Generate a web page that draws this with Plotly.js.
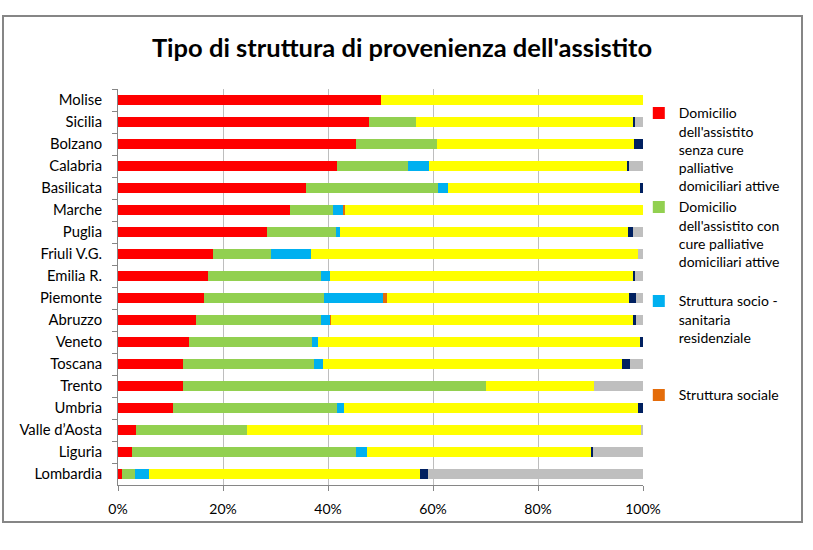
<!DOCTYPE html>
<html>
<head>
<meta charset="utf-8">
<script src="https://cdn.plot.ly/plotly-3.0.1.min.js"></script>
<style>
  html, body { margin: 0; padding: 0; background: #ffffff; }
  #chart { width: 813px; height: 550px; }
</style>
</head>
<body>
<div id="chart"></div>
<script>
const regions = ["Molise","Sicilia","Bolzano","Calabria","Basilicata","Marche","Puglia","Friuli V.G.","Emilia R.","Piemonte","Abruzzo","Veneto","Toscana","Trento","Umbria","Valle d’Aosta","Liguria","Lombardia"];

const domicilioSenzaCure = [50.1, 47.8, 45.3, 41.8, 35.8, 32.8, 28.3, 18.0, 17.1, 16.4, 14.9, 13.5, 12.3, 12.3, 10.5, 3.4, 2.7, 0.7];
const domicilioConCure   = [0.0, 8.9, 15.5, 13.4, 25.2, 8.2, 13.2, 11.1, 21.5, 22.8, 23.8, 23.5, 25.0, 57.7, 31.3, 21.2, 42.6, 2.5];
const strutturaSocioSan  = [0.0, 0.0, 0.0, 4.0, 1.8, 1.8, 0.7, 7.6, 1.7, 11.3, 1.7, 1.0, 1.8, 0.0, 1.2, 0.0, 2.1, 2.7];
const strutturaSociale   = [0.0, 0.1, 0.0, 0.0, 0.0, 0.4, 0.0, 0.0, 0.1, 0.7, 0.2, 0.0, 0.0, 0.0, 0.0, 0.0, 0.0, 0.0];
const strutturaOspedale  = [49.9, 41.3, 37.5, 37.8, 36.7, 56.8, 55.0, 62.4, 57.7, 46.1, 57.5, 61.4, 56.9, 20.7, 56.1, 75.0, 42.7, 51.6];
const hospice            = [0.0, 0.3, 1.7, 0.4, 0.5, 0.0, 0.9, 0.0, 0.3, 1.4, 0.6, 0.6, 1.5, 0.0, 0.9, 0.0, 0.4, 1.5];
const altro              = [0.0, 1.6, 0.0, 2.6, 0.0, 0.0, 1.9, 0.9, 1.6, 1.3, 1.3, 0.0, 2.5, 9.3, 0.0, 0.4, 9.5, 41.0];

const xTickVals = [0, 20, 40, 60, 80, 100];
const xTickText = ["0%", "20%", "40%", "60%", "80%", "100%"];

const seriesNames = [
  "Domicilio<br>dell'assistito<br>senza cure<br>palliative<br>domiciliari attive",
  "Domicilio<br>dell'assistito con<br>cure palliative<br>domiciliari attive<br> ",
  "Struttura socio -<br>sanitaria<br>residenziale<br> <br> ",
  "Struttura sociale",
  "Struttura ospedaliera",
  "Hospice",
  "Altro"
];
const seriesData = [domicilioSenzaCure, domicilioConCure, strutturaSocioSan, strutturaSociale, strutturaOspedale, hospice, altro];
const seriesColors = ["#FF0000", "#92D050", "#00B0F0", "#E46C0A", "#FFFF00", "#002060", "#BFBFBF"];
const inLegend = [true, true, true, true, false, false, false];

const traces = seriesData.map((vals, i) => ({
  type: "bar",
  orientation: "h",
  name: seriesNames[i],
  x: vals,
  y: regions,
  marker: { color: seriesColors[i], line: { width: 0 } },
  showlegend: inLegend[i],
  hoverinfo: "x+y"
}));

const font = "Lato, 'Open Sans', 'DejaVu Sans', sans-serif";

const layout = {
  width: 813,
  height: 550,
  paper_bgcolor: "#ffffff",
  plot_bgcolor: "#ffffff",
  barmode: "stack",
  bargap: 0.59,
  margin: { l: 118, r: 170, t: 89, b: 65 },
  font: { family: font, size: 14, color: "#000000" },
  title: {
    text: "<b>Tipo di struttura di provenienza dell'assistito</b>",
    font: { family: font, size: 25.5, color: "#000000" },
    x: 0.4945, xref: "container", xanchor: "center",
    y: 0.913, yref: "container", yanchor: "middle"
  },
  xaxis: {
    range: [0, 100],
    tickvals: xTickVals,
    ticktext: xTickText,
    showgrid: true,
    gridcolor: "#BEBEBE",
    gridwidth: 1,
    zeroline: false,
    showline: true,
    linecolor: "#868686",
    linewidth: 1,
    ticks: "outside",
    ticklen: 5,
    tickcolor: "#868686",
    tickfont: { family: font, size: 14, color: "#000000" },
    ticklabelstandoff: 6,
    fixedrange: true
  },
  yaxis: {
    type: "category",
    autorange: "reversed",
    showgrid: false,
    zeroline: false,
    showline: true,
    linecolor: "#868686",
    linewidth: 1,
    ticks: "outside",
    tickson: "boundaries",
    ticklen: 5,
    tickcolor: "#868686",
    tickfont: { family: font, size: 14.8, color: "#000000" },
    ticklabelstandoff: 12,
    fixedrange: true
  },
  legend: {
    x: 0.992, xref: "paper", xanchor: "left",
    y: 0.979, yref: "paper", yanchor: "top",
    traceorder: "normal",
    valign: "top",
    font: { family: font, size: 14, color: "#000000" },
    bgcolor: "rgba(0,0,0,0)",
    itemwidth: 30,
    tracegroupgap: 0
  },
  shapes: [{
    type: "rect", xref: "paper", yref: "paper",
    x0: (3 - 118) / 525, x1: (802 - 118) / 525,
    y0: (485 - 522) / 396, y1: (485 - 16) / 396,
    line: { color: "#868686", width: 2 },
    fillcolor: "rgba(0,0,0,0)",
    layer: "below"
  }]
};

Plotly.newPlot("chart", traces, layout, { displayModeBar: false, staticPlot: true });
</script>
</body>
</html>
